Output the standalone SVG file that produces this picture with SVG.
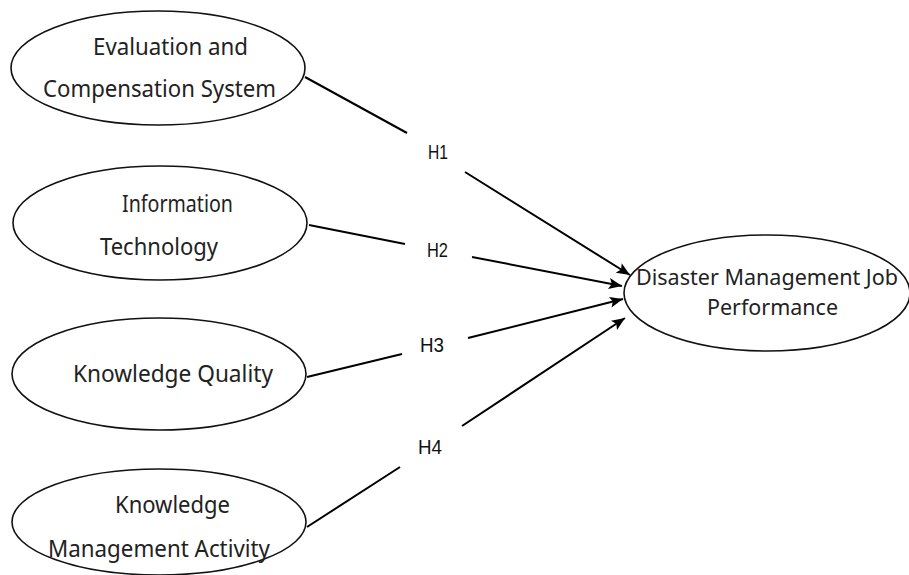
<svg xmlns="http://www.w3.org/2000/svg" width="909" height="575" viewBox="0 0 909 575">
<defs>
<marker id="arr" viewBox="0 0 12 10" refX="12" refY="5" markerWidth="14" markerHeight="11" markerUnits="userSpaceOnUse" orient="auto">
<path d="M0,0 L12,5 L0,10 L2.5,5 Z" fill="#000"/>
</marker>
<style>
.node ellipse{fill:#fff;stroke:#111;stroke-width:1.6}
.lbl{font-family:"Noto Sans","Open Sans",sans-serif;font-size:23px;fill:#222}
.tgt{font-size:22px}
.h{font-family:"Liberation Sans",Arial,sans-serif;font-size:21px;fill:#111}
.conn line{stroke:#000;stroke-width:2}
</style>
</defs>
<rect width="909" height="575" fill="#fff"/>
<g id="n1" class="node">
<ellipse cx="158" cy="68" rx="147" ry="57"/>
<text class="lbl" x="93" y="55" textLength="155" lengthAdjust="spacingAndGlyphs">Evaluation and</text>
<text class="lbl" x="43" y="97" textLength="233" lengthAdjust="spacingAndGlyphs">Compensation System</text>
</g>
<g id="n2" class="node">
<ellipse cx="160" cy="223" rx="147" ry="57"/>
<text class="lbl" x="122" y="212" textLength="111" lengthAdjust="spacingAndGlyphs">Information</text>
<text class="lbl" x="100" y="255" textLength="118" lengthAdjust="spacingAndGlyphs">Technology</text>
</g>
<g id="n3" class="node">
<ellipse cx="159" cy="374" rx="147" ry="56"/>
<text class="lbl" x="73" y="382" textLength="200" lengthAdjust="spacingAndGlyphs">Knowledge Quality</text>
</g>
<g id="n4" class="node">
<ellipse cx="159" cy="522" rx="147" ry="53"/>
<text class="lbl" x="115" y="513" textLength="115" lengthAdjust="spacingAndGlyphs">Knowledge</text>
<text class="lbl" x="48" y="557" textLength="222" lengthAdjust="spacingAndGlyphs">Management Activity</text>
</g>
<g id="n5" class="node">
<ellipse cx="767" cy="293" rx="143" ry="58"/>
<text class="lbl tgt" x="636" y="285" textLength="262" lengthAdjust="spacingAndGlyphs">Disaster Management Job</text>
<text class="lbl tgt" x="707" y="315" textLength="131" lengthAdjust="spacingAndGlyphs">Performance</text>
</g>
<g id="connectors" class="conn">
<line x1="305" y1="77" x2="407" y2="133"/>
<line x1="465" y1="172" x2="630" y2="275" marker-end="url(#arr)"/>
<line x1="309" y1="225" x2="405" y2="244"/>
<line x1="472" y1="257" x2="622" y2="286" marker-end="url(#arr)"/>
<line x1="307" y1="377" x2="402" y2="354"/>
<line x1="468" y1="338" x2="623" y2="299" marker-end="url(#arr)"/>
<line x1="307" y1="527" x2="400" y2="467"/>
<line x1="462" y1="426" x2="625" y2="318" marker-end="url(#arr)"/>
</g>
<g id="labels">
<text class="h" x="428" y="159" textLength="20" lengthAdjust="spacingAndGlyphs">H1</text>
<text class="h" x="427" y="257" textLength="21" lengthAdjust="spacingAndGlyphs">H2</text>
<text class="h" x="420" y="352" textLength="24" lengthAdjust="spacingAndGlyphs">H3</text>
<text class="h" x="418" y="454" textLength="24" lengthAdjust="spacingAndGlyphs">H4</text>
</g>
</svg>
